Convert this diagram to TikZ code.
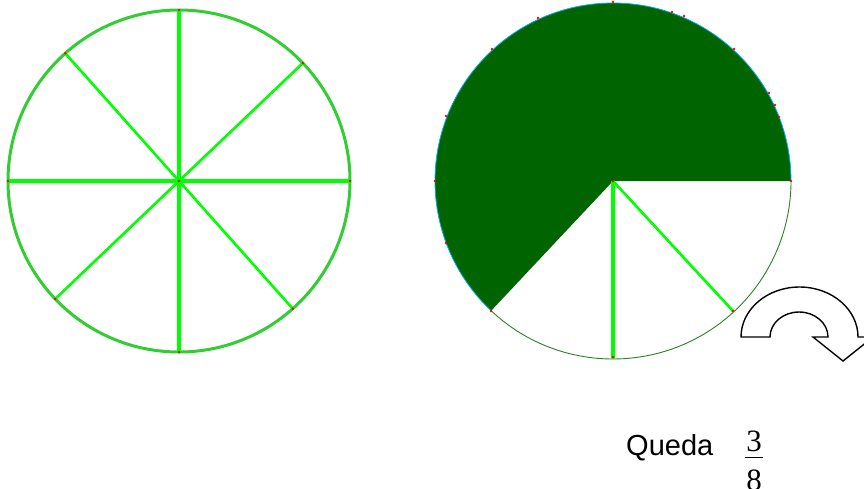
\documentclass[tikz,border=0pt]{standalone}
\usepackage{fontspec}
\setmainfont{Liberation Sans}
\newfontfamily\timesfont{Liberation Serif}
\usetikzlibrary{calc}
\definecolor{rimgreen}{RGB}{50,205,50}
\definecolor{spokegreen}{RGB}{0,255,0}
\definecolor{piegreen}{RGB}{0,100,0}
\definecolor{edgegreen}{RGB}{40,130,40}

\begin{document}
\begin{tikzpicture}[x=1pt,y=1pt,
   rim/.style={draw=rimgreen,line width=3pt},
   spoke/.style={draw=spokegreen,line width=3.5pt},
   thinspoke/.style={draw=spokegreen,line width=2.6pt},
   turnarrow/.style={draw=black,fill=white,line width=1.4pt,line join=miter}]
  \useasboundingbox (0,0) rectangle (864,-488);
  \coordinate (L) at (179,-181);
  \coordinate (R) at (613,-181);
  % left circle, eight parts
  \foreach \a/\n in {0/e,90/n,180/w,270/s,43.6/ne,131.7/nw,223.6/sw,311.7/se}
    \coordinate (L\n) at ($(L)+(\a:171)$);
  \draw[rim] (L) circle[radius=171];
  \draw[spoke] (Lw) -- (Le);
  \draw[spoke] (Ln) -- (Ls);
  \draw[thinspoke] (Lnw) -- (Lse);
  \draw[thinspoke] (Lsw) -- (Lne);
  \foreach \n in {e,n,w,s,ne,nw,sw,se}
    \fill[red] (L\n) circle[radius=1.4];
  \fill[red] (L) circle[radius=1.4];
  % right circle, five parts taken
  \foreach \a/\n in {0/e,270/s,226.8/sw,312.7/se}
    \coordinate (R\n) at ($(R)+(\a:178)$);
  \fill[piegreen] (R) -- (Re) arc[start angle=0,end angle=226.8,radius=178] -- cycle;
  \draw[cyan,line width=0.8pt] (Re) arc[start angle=0,end angle=226.8,radius=178];
  \draw[edgegreen,line width=0.9pt] (Rsw) arc[start angle=226.8,end angle=360,radius=178];
  \draw[spoke] (R) -- (Rs);
  \draw[thinspoke] (R) -- (Rse);
  \foreach \p in {(791,-181),(613,-357),(733,-311),(491,-311),(446,-243),(435,-181),
                  (446,-116),(492,-49),(538,-18),(613,-2),(672,-12),(684,-16),
                  (734,-49),(769,-93),(775,-105),(779,-117),(613,-181)}
    \fill[red] \p circle[radius=1.4];
  % turning arrow
  \draw[turnarrow] (741,-337) arc[start angle=180,end angle=0,x radius=58.5,y radius=50]
    -- (873,-337) -- (843,-361) -- (813,-337) -- (828,-337)
    arc[start angle=0,end angle=180,x radius=29,y radius=25] -- cycle;
  % result
  \node[anchor=base west,inner sep=0pt,font=\fontsize{29}{34}\selectfont] (queda) at (626,-455) {Queda};
  \node[anchor=base,inner sep=0pt,font=\timesfont\fontsize{31}{36}\selectfont] (num) at (754,-451) {3};
  \node[anchor=base,inner sep=0pt,font=\timesfont\fontsize{31}{36}\selectfont] (den) at (754,-490) {8};
  \draw[line width=1pt] (745,-457) -- (763,-457);
\end{tikzpicture}
\end{document}
